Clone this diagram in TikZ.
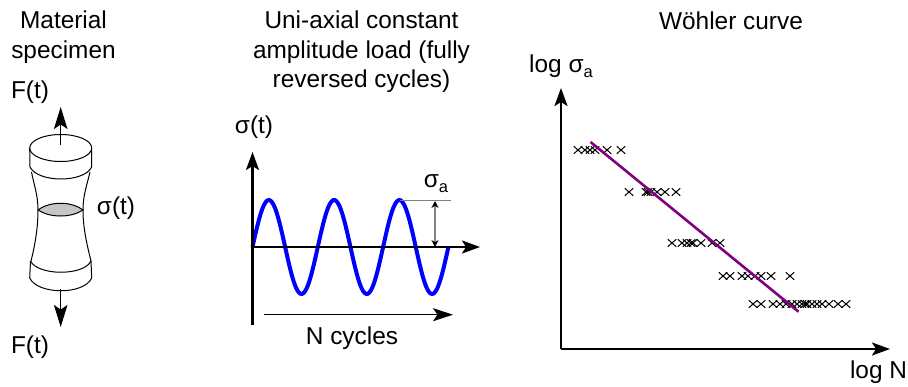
\documentclass[tikz,border=0pt]{standalone}
\usepackage{fontspec}
\setmainfont{Liberation Sans}
\usepackage{tikz}
\usetikzlibrary{arrows.meta,calc,positioning,shapes.misc}
\newcommand{\subA}{\raisebox{-5pt}{\fontsize{16.5}{16.5}\selectfont a}}
\tikzset{
  label/.style  = {font=\fontsize{24.4}{29.5}\selectfont, inner sep=0pt, align=center},
  outline/.style = {line width=1pt, black},
  axis/.style   = {-{Stealth[length=18pt,width=13pt,inset=4pt]}, line width=2.4pt, black},
  force/.style  = {-{Stealth[length=22pt,width=13.5pt,inset=4.5pt]}, line width=1.4pt, black},
  helper/.style = {line width=1.3pt, gray},
  tick/.style   = {{Stealth[length=7pt,width=7pt,black]}-{Stealth[length=7pt,width=7pt,black]}, line width=1.2pt, gray},
  xmark/.style  = {cross out, draw=black, line width=1pt, inner sep=0pt, minimum width=7.5pt, minimum height=6.5pt},
}

\begin{document}
\begin{tikzpicture}[x=1pt,y=-1pt]
  \useasboundingbox (0,0) rectangle (908,386);
  % specimen
  \node[label] (ttlA) at (63.5,37) {Material\\specimen};
  \node[label] (forceT) at (30,92) {F(t)};
  \node[label] (forceB) at (30,347) {F(t)};
  \node[label] (sigmaS) at (116,208) {σ(t)};
  \coordinate (tc) at (60.7,148);
  \coordinate (neckL) at (38,210);
  \coordinate (neckR) at (83,210);
  \fill[gray!45] (neckL) .. controls (50,201) and (71,201) .. (neckR)
      .. controls (71,218) and (50,218) .. (neckL);
  \draw[outline] (neckL) .. controls (50,201) and (71,201) .. (neckR)
      .. controls (71,218) and (50,218) .. (neckL);
  \draw[outline] (tc) ellipse [x radius=31,y radius=13.5];
  \draw[outline] (29.7,148) -- (30,167) .. controls (38,183) and (84,183) .. (91.7,167) -- (91.7,148);
  \draw[outline] (31.5,172) .. controls (34,185) and (38,195) .. (neckL)
      .. controls (38,228) and (35,245) .. (31,261);
  \draw[outline] (90,172) .. controls (87,185) and (83,195) .. (neckR)
      .. controls (83,228) and (87,245) .. (91,261);
  \draw[outline] (30.5,261) .. controls (38,276) and (84,276) .. (91,261);
  \draw[outline] (30.5,261) -- (29.7,278) .. controls (38,295) and (84,295) .. (91.7,278) -- (91,261);
  \draw[force] (60.7,145) coordinate (upS) -- (60.7,107) coordinate (upE);
  \draw[force] (60.7,289) coordinate (dnS) -- (60.7,327) coordinate (dnE);
  % load history
  \node[label] (ttlB) at (361.5,52) {Uni-axial constant\\amplitude load (fully\\reversed cycles)};
  \node[label] (sigmaY) at (254,127) {σ(t)};
  \node[label] (sigmaA) at (436,184) {σ\subA};
  \node[label] (cycles) at (352,338) {N cycles};
  \coordinate (org) at (252.5,247);
  \coordinate (yEnd) at (252.5,152);
  \coordinate (yLow) at (252.5,325);
  \coordinate (xEnd) at (480,247);
  \draw[blue,line width=4pt,domain=0:195.9,samples=120,smooth]
      plot ({252.5+\x},{247-47*sin(\x/65.3*360)});
  \draw[helper] (400,200.7) -- (451,200.7);
  \draw[tick] (435,201) coordinate (ampT) -- (435,247) coordinate (ampB);
  \draw[axis] (yLow) -- (yEnd);
  \draw[axis] (org) -- (xEnd);
  \draw[-{Stealth[length=20pt,width=13pt,inset=4.5pt]},line width=1.4pt] (264,314.7) coordinate (nS) -- (453,314.7) coordinate (nE);
  % Woehler
  \node[label] (ttlC) at (731,21) {Wöhler curve};
  \node[label,anchor=west] (logS) at (529,66) {log σ\subA};
  \node[label] (logN) at (878.5,372) {log N};
  \coordinate (wo) at (561,349);
  \draw[axis] (wo) -- (561,88);
  \draw[axis] (wo) -- (890,349);
  \foreach \y/\xs in {150/{578,585,590,595,607,621},
                      192/{629,646,648,651,657,665,676},
                      243/{672,682,687,691,693,701,712,720},
                      276/{723,730,742,748,755,761,771,790},
                      304/{753,761,773,780,786,792,797,802,805,807,812,817,822,829,838,846}}
    \foreach \x in \xs
      \node[xmark] (m\y-\x) at (\x,\y) {};
  \draw[violet,line width=2.6pt] (590.5,142) coordinate (fitA) -- (798.5,311.7) coordinate (fitB);
\end{tikzpicture}
\end{document}
